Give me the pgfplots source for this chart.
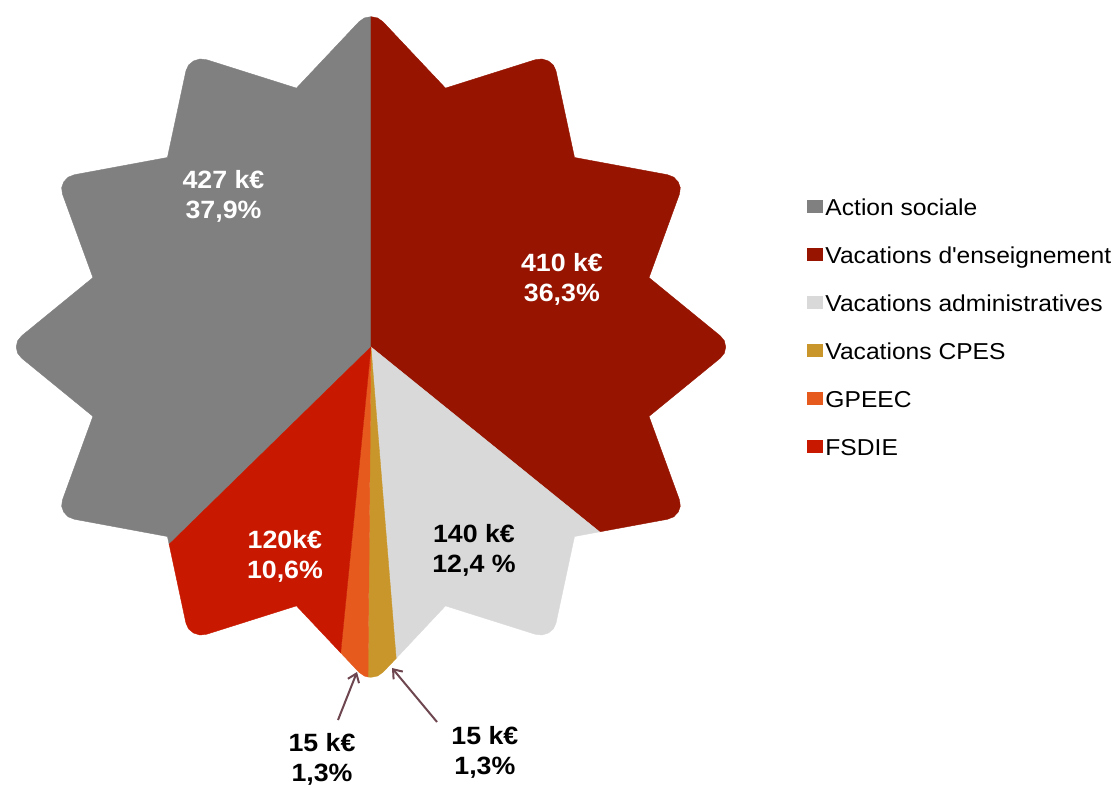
\documentclass[border=0pt]{standalone}
\usepackage{pgfplots}
\pgfplotsset{compat=1.18}
\usepackage{fontspec}
\setmainfont{Liberation Sans}[FakeStretch=1.07]
\usetikzlibrary{arrows.meta}
\definecolor{cSoc}{HTML}{808080}
\definecolor{cEns}{HTML}{961400}
\definecolor{cAdm}{HTML}{D9D9D9}
\definecolor{cCpes}{HTML}{C8962A}
\definecolor{cGpe}{HTML}{E65A1E}
\definecolor{cFsd}{HTML}{C81900}
\definecolor{cArr}{HTML}{6E4650}
\begin{document}
\begin{tikzpicture}
\begin{axis}[
  scale only axis, width=559.5pt, height=393.5pt,
  xmin=-345.4, xmax=696.5, ymin=-440, ymax=347,
  hide axis, clip=false,
  legend cell align=left,
  legend image code/.code={\path[#1] (0pt,-1.5pt) rectangle (7.5pt,4.5pt);},
  legend style={draw=none, fill=none, inner sep=0pt, outer sep=0pt,
    at={(rel axis cs:0.7212,0.7484)}, anchor=north west,
    row sep=13pt, column sep=1.5pt,
    font=\fontsize{11.5}{13}\selectfont,
    nodes={inner sep=0pt, text height=8.5pt, text depth=2.5pt}},
]
% Action sociale
\addplot[fill=cSoc, draw=cSoc, line width=0.2pt, data cs=polar] coordinates {
(0,0) (-133.6,272.5) (-135,268) (-148.03,325.4) (-148.93,329.1) (-150,330.3) (-151.07,329.1) (-151.97,325.4)
(-165,268) (-178.03,325.4) (-178.93,329.1) (-180,330.3) (-181.07,329.1) (-181.97,325.4)
(-195,268) (-208.03,325.4) (-208.93,329.1) (-210,330.3) (-211.07,329.1) (-211.97,325.4)
(-225,268) (-238.03,325.4) (-238.93,329.1) (-240,330.3) (-241.07,329.1) (-241.97,325.4)
(-255,268) (-268.03,325.4) (-268.93,329.1) (-270,330.3)
} -- cycle;
\addlegendentry{Action sociale}
% Vacations d'enseignement
\addplot[fill=cEns, draw=cEns, line width=0.2pt, data cs=polar] coordinates {
(0,0) (90,330.3) (88.93,329.1) (88.03,325.4) (75,268)
(61.97,325.4) (61.07,329.1) (60,330.3) (58.93,329.1) (58.03,325.4) (45,268)
(31.97,325.4) (31.07,329.1) (30,330.3) (28.93,329.1) (28.03,325.4) (15,268)
(1.97,325.4) (1.07,329.1) (0,330.3) (-1.07,329.1) (-1.97,325.4) (-15,268)
(-28.03,325.4) (-28.93,329.1) (-30,330.3) (-31.07,329.1) (-31.97,325.4) (-40.97,281.9)
} -- cycle;
\addlegendentry{Vacations d\textquotesingle enseignement}
% Vacations administratives
\addplot[fill=cAdm, draw=cAdm, line width=0.2pt, data cs=polar] coordinates {
(0,0) (-40.97,281.9) (-45,268) (-58.03,325.4) (-58.93,329.1) (-60,330.3) (-61.07,329.1) (-61.97,325.4) (-75,268) (-85.69,312.3)
} -- cycle;
\addlegendentry{Vacations administratives}
% Vacations CPES
\addplot[fill=cCpes, draw=cCpes, line width=0.2pt, data cs=polar] coordinates {
(0,0) (-85.69,312.3) (-88.03,325.4) (-88.93,329.1) (-90,330.3) (-90.48,330.0)
} -- cycle;
\addlegendentry{Vacations CPES}
% GPEEC
\addplot[fill=cGpe, draw=cGpe, line width=0.2pt, data cs=polar] coordinates {
(0,0) (-90.48,330.0) (-91.07,329.1) (-91.97,325.4) (-95.27,307.1)
} -- cycle;
\addlegendentry{GPEEC}
% FSDIE
\addplot[fill=cFsd, draw=cFsd, line width=0.2pt, data cs=polar] coordinates {
(0,0) (-95.27,307.1) (-105,268) (-118.03,325.4) (-118.93,329.1) (-120,330.3) (-121.07,329.1) (-121.97,325.4) (-133.6,272.5)
} -- cycle;
\addlegendentry{FSDIE}

\tikzset{lbl/.style={font=\bfseries\fontsize{12.5}{15}\selectfont, align=center, inner sep=0pt}}
\node[lbl, text=white] at (axis cs:-137.3,151) {427 k€\\37,9\%};
\node[lbl, text=white] at (axis cs:177.8,68) {410 k€\\36,3\%};
\node[lbl, text=black] at (axis cs:95.9,-203) {140 k€\\12,4 \%};
\node[lbl, text=white] at (axis cs:-80.1,-209) {120k€\\10,6\%};
\node[lbl, text=black] at (axis cs:-45.6,-412) {15 k€\\1,3\%};
\node[lbl, text=black] at (axis cs:106.1,-405) {15 k€\\1,3\%};
\draw[cArr, line width=1pt, -{Straight Barb[length=4pt,width=6pt]}] (axis cs:-30.7,-373) -- (axis cs:-13.0,-325);
\draw[cArr, line width=1pt, -{Straight Barb[length=4pt,width=6pt]}] (axis cs:61.5,-375) -- (axis cs:19.6,-321);
\end{axis}
\path (current axis.south west) rectangle (current axis.north east);
\end{tikzpicture}
\end{document}
